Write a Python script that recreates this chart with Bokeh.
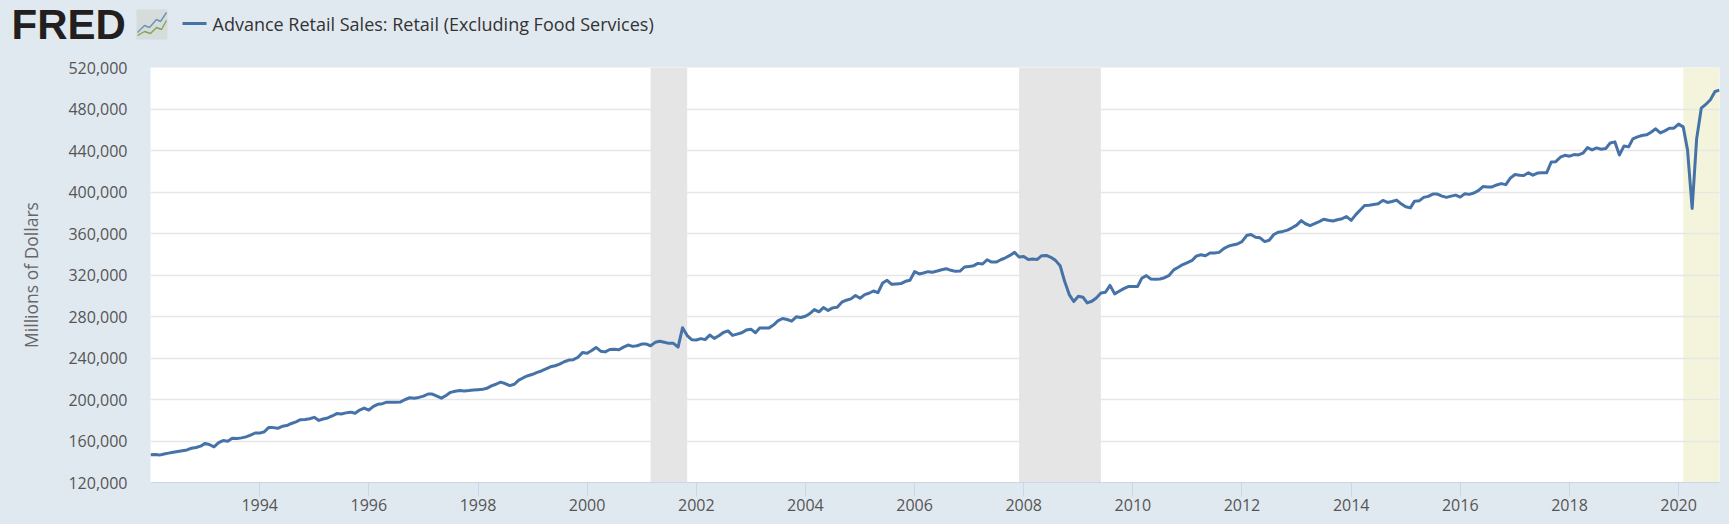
import numpy as np
import pandas as pd
from bokeh.core.properties import value
from bokeh.embed import file_html
from bokeh.layouts import column, row
from bokeh.models import (BoxAnnotation, DatetimeTickFormatter, FixedTicker,
                          NumeralTickFormatter, Range1d)
from bokeh.plotting import figure
from bokeh.resources import INLINE

# monthly values, thousands of dollars per year row
y1992 = [146.8, 146.9, 146.4, 147.5, 148.3, 149.2, 149.9, 150.6, 151.4, 153.0, 153.7, 155.0]
y1993 = [157.7, 156.4, 154.4, 158.4, 160.4, 159.8, 162.7, 162.4, 163.0, 164.0, 165.7, 167.7]
y1994 = [167.6, 168.9, 172.9, 172.9, 172.2, 174.2, 174.9, 176.9, 178.5, 180.5, 180.8, 181.5]
y1995 = [182.8, 179.8, 181.2, 182.2, 184.1, 186.4, 186.1, 187.1, 187.8, 186.8, 189.8, 191.7]
y1996 = [189.8, 193.4, 195.4, 196.0, 197.4, 197.4, 197.4, 197.7, 200.0, 201.7, 201.3, 202.0]
y1997 = [203.3, 205.3, 205.2, 203.2, 201.3, 203.9, 206.9, 207.9, 208.6, 208.2, 208.6, 209.2]
y1998 = [209.5, 209.8, 210.8, 213.1, 214.7, 216.7, 215.4, 213.4, 214.7, 218.7, 221.0, 222.9]
y1999 = [224.3, 226.2, 227.5, 229.5, 231.5, 232.5, 234.1, 236.4, 238.0, 238.4, 240.7, 245.2]
y2000 = [244.6, 247.2, 250.2, 246.6, 245.9, 248.2, 248.5, 247.9, 250.5, 252.5, 251.2, 251.8]
y2001 = [253.4, 253.4, 251.8, 255.1, 256.1, 255.1, 254.1, 254.1, 250.5, 269.2, 261.6, 257.7]
y2002 = [257.4, 258.7, 257.7, 262.1, 258.9, 261.4, 264.6, 266.2, 261.8, 263.0, 264.3, 266.9]
y2003 = [267.8, 264.3, 268.8, 268.8, 268.8, 271.7, 275.8, 278.1, 277.1, 275.5, 279.7, 279.0]
y2004 = [280.3, 282.9, 286.7, 284.5, 288.6, 285.8, 288.3, 289.0, 293.8, 295.7, 297.0, 300.2]
y2005 = [297.6, 301.1, 302.4, 304.6, 303.0, 312.3, 314.9, 311.0, 311.4, 311.7, 313.9, 314.9]
y2006 = [323.2, 321.0, 321.9, 323.2, 322.6, 323.8, 325.1, 326.1, 324.5, 323.5, 323.8, 327.7]
y2007 = [328.3, 329.0, 331.2, 330.6, 334.7, 332.5, 332.5, 334.7, 336.6, 338.9, 341.8, 337.3]
y2008 = [337.9, 335.0, 335.4, 335.0, 338.6, 338.9, 337.0, 334.1, 329.0, 313.9, 301.1, 294.4]
y2009 = [299.5, 298.6, 293.1, 294.7, 297.9, 302.7, 303.4, 310.0, 301.8, 304.3, 306.9, 308.8]
y2010 = [308.8, 308.8, 316.8, 319.4, 316.2, 315.8, 316.2, 317.4, 319.7, 324.9, 327.5, 330.1]
y2011 = [332.0, 334.0, 338.2, 339.5, 338.6, 341.2, 341.2, 341.8, 345.4, 347.7, 349.0, 349.9]
y2012 = [352.2, 358.0, 359.0, 356.4, 355.8, 352.2, 353.5, 359.0, 361.3, 362.0, 363.3, 365.5]
y2013 = [368.1, 372.4, 369.4, 367.5, 369.4, 371.4, 373.7, 372.7, 372.0, 373.3, 374.3, 376.3]
y2014 = [372.7, 378.2, 382.4, 387.0, 387.3, 388.0, 388.6, 391.9, 389.9, 390.9, 392.2, 388.6]
y2015 = [385.7, 384.7, 391.2, 391.5, 394.8, 395.8, 398.0, 398.0, 396.0, 394.8, 396.0, 397.0]
y2016 = [395.1, 398.4, 397.7, 399.0, 401.3, 405.2, 404.9, 404.9, 406.8, 408.1, 407.1, 413.3]
y2017 = [416.9, 416.2, 415.9, 418.5, 416.2, 418.2, 418.5, 418.5, 428.9, 429.2, 433.5, 435.4]
y2018 = [434.5, 436.1, 435.7, 437.4, 442.8, 440.6, 442.5, 441.2, 441.9, 447.3, 448.3, 435.7]
y2019 = [444.4, 443.5, 451.2, 453.1, 454.4, 455.1, 457.6, 460.9, 457.0, 458.9, 461.5, 461.5]
y2020 = [465.4, 462.8, 440.6, 384.2, 451.2, 480.8, 484.4, 488.9, 496.9, 498.2]

sales = np.array(
    y1992 + y1993 + y1994 + y1995 + y1996 + y1997 + y1998 + y1999 + y2000 + y2001
    + y2002 + y2003 + y2004 + y2005 + y2006 + y2007 + y2008 + y2009 + y2010 + y2011
    + y2012 + y2013 + y2014 + y2015 + y2016 + y2017 + y2018 + y2019 + y2020
) * 1000
dates = pd.date_range("1992-01-01", periods=len(sales), freq="MS")

y_ticks = list(range(120000, 520001, 40000))
x_tick_years = list(range(1994, 2021, 2))
recessions = [("2001-03-01", "2001-11-01"), ("2007-12-01", "2009-06-01")]
current_period = ("2020-02-01", "2020-10-01")

series_name = "Advance Retail Sales: Retail (Excluding Food Services)"
y_title = "Millions of Dollars"

BG = "#e1e9f0"
FONT = "Open Sans"
LINE = "#4572a7"

# header strip: logo, icon and legend. Label/Legend did not show up over the
# svg frame, so this is its own small figure in pixel coordinates
head = figure(width=1729, height=55, output_backend="svg", toolbar_location=None,
              x_range=Range1d(0, 1729), y_range=Range1d(55, 0),
              min_border=0, outline_line_color=None, x_axis_location=None, y_axis_location=None)
head.grid.visible = False
head.background_fill_color = BG
head.border_fill_color = BG

head.text([11], [24], text=["FRED"], text_font=value("Liberation Sans"), text_font_style="bold",
          text_font_size="42px", text_color="#231f20", text_baseline="middle")
head.quad(left=[136], right=[167], top=[9], bottom=[39], fill_color="#d6dbdb", line_color=None)
head.line([137, 144, 149, 156, 160, 166], [32, 25, 27, 19, 21, 12], line_color="#6d93b8", line_width=1.4)
head.line([137, 144, 150, 156, 161, 166], [35, 31, 33, 27, 29, 20], line_color="#7fa650", line_width=1.4)
head.line([182, 206], [23, 23], line_color=LINE, line_width=3)
head.text([212], [23], text=[series_name], text_font=value(FONT), text_font_size="18px",
          text_color="#333333", text_baseline="middle")

p = figure(width=1729, height=469, output_backend="svg", toolbar_location=None,
           x_axis_type="datetime",
           x_range=Range1d(dates[0], dates[-1]), y_range=Range1d(120000, 520000),
           min_border_left=150, min_border_right=10, min_border_top=12, min_border_bottom=42)
p.background_fill_color = "white"
p.border_fill_color = BG
p.outline_line_color = None

# shaded periods
for start, end in recessions:
    p.add_layout(BoxAnnotation(left=pd.Timestamp(start), right=pd.Timestamp(end),
                               fill_color="#e5e5e5", fill_alpha=1, line_color=None, level="underlay"))
p.add_layout(BoxAnnotation(left=pd.Timestamp(current_period[0]), right=pd.Timestamp(current_period[1]),
                           fill_color="#f4f4dc", fill_alpha=1, line_color=None, level="image"))

p.line(dates, sales, line_color=LINE, line_width=3, line_join="round")

# axes
p.xgrid.visible = False
p.ygrid.grid_line_color = "#e6e6e6"
p.ygrid.grid_line_width = 1.6
p.yaxis.ticker = FixedTicker(ticks=y_ticks)
p.yaxis.formatter = NumeralTickFormatter(format="0,0")
p.yaxis.axis_line_color = None
p.yaxis.major_tick_line_color = None
p.yaxis.major_tick_in = 0
p.yaxis.major_tick_out = 0
p.yaxis.minor_tick_line_color = None
p.yaxis.major_label_text_font = FONT
p.yaxis.major_label_text_font_size = "16px"
p.yaxis.major_label_text_color = "#555555"
p.yaxis.major_label_standoff = 23
p.yaxis.axis_label = y_title
p.yaxis.axis_label_text_font = FONT
p.yaxis.axis_label_text_font_size = "17.5px"
p.yaxis.axis_label_text_font_style = "normal"
p.yaxis.axis_label_text_color = "#666666"
p.yaxis.axis_label_standoff = 22

x_ticks = [pd.Timestamp(year=y, month=1, day=1).timestamp() * 1000 for y in x_tick_years]
p.xaxis.ticker = FixedTicker(ticks=x_ticks)
p.xaxis.formatter = DatetimeTickFormatter(years="%Y", months="%Y", days="%Y", hours="%Y")
p.xaxis.axis_line_color = "#ccd6eb"
p.xaxis.axis_line_width = 1
p.xaxis.major_tick_line_color = "#ccd6eb"
p.xaxis.major_tick_in = 0
p.xaxis.major_tick_out = 14
p.xaxis.minor_tick_line_color = None
p.xaxis.major_label_text_font = FONT
p.xaxis.major_label_text_font_size = "16px"
p.xaxis.major_label_text_color = "#555555"
p.xaxis.major_label_standoff = 2

# nested so the header frame is not lined up with the chart frame
top = row(head, styles={"background-color": BG})
page = column(top, p, spacing=0, styles={"background-color": BG})

open("out.html", "w").write(file_html(page, INLINE))
